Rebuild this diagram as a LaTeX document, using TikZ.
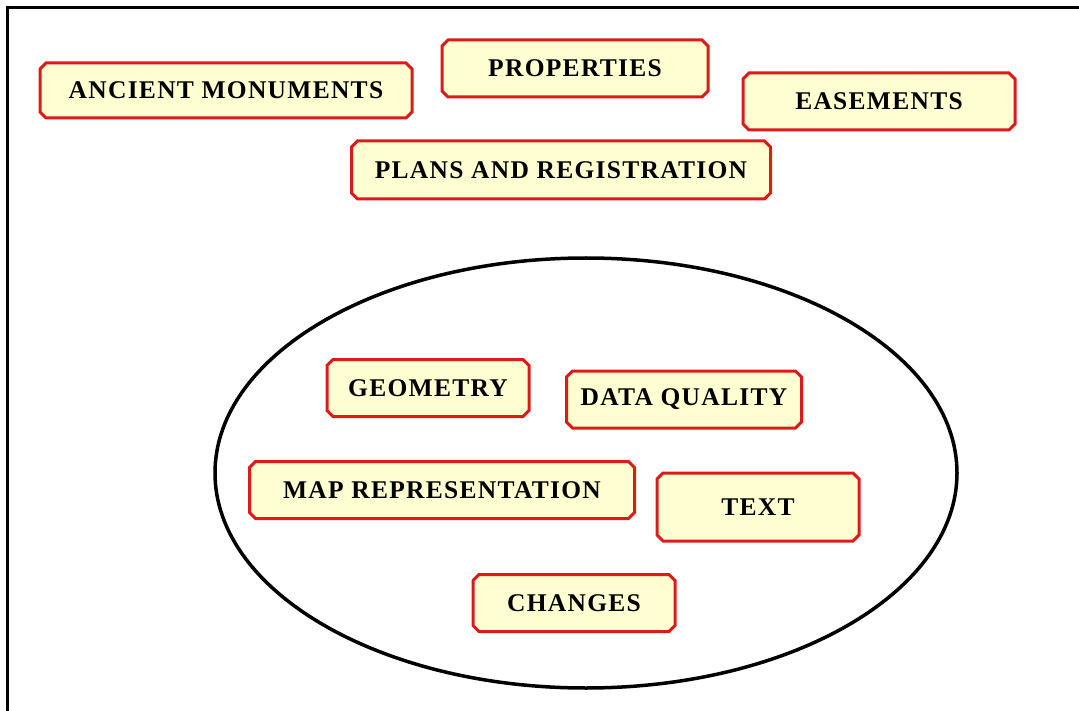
\documentclass[tikz,border=0pt]{standalone}
\usepackage{fontspec}
\setmainfont{Liberation Serif}[LetterSpace=5]
\usetikzlibrary{shapes.misc}
\definecolor{boxred}{HTML}{DD1A1A}
\definecolor{boxfill}{HTML}{FFFFD2}

\begin{document}
\begin{tikzpicture}[
  x=1pt,y=-1pt,
  topic/.style={chamfered rectangle,chamfered rectangle xsep=3pt,chamfered rectangle ysep=3pt,
    draw=boxred,line width=3pt,fill=boxfill,minimum height=57pt,
    font=\fontsize{25.5}{28}\selectfont\bfseries},
  scope line/.style={line width=3.5pt,black}
]
  \useasboundingbox (0,0) rectangle (1079,711);
  % frame
  \draw[line width=3pt] (7,711) -- (7,8) -- (1079,8);

  % outside topics
  \node[topic,minimum width=372pt,minimum height=55pt] (ancient) at (226,90.5) {ANCIENT MONUMENTS};
  \node[topic,minimum width=266pt] (properties) at (575,68.5) {PROPERTIES};
  \node[topic,minimum width=272pt] (easements) at (879,101.5) {EASEMENTS};
  \node[topic,minimum width=419pt,minimum height=58pt] (plans) at (561,170) {PLANS AND REGISTRATION};

  % the scope
  \draw[scope line] (586,473) ellipse (371 and 215);

  % inside topics
  \node[topic,minimum width=202pt] (geometry) at (428,388) {GEOMETRY};
  \node[topic,minimum width=235pt] (quality) at (684,399.5) {DATA QUALITY};
  \node[topic,minimum width=385pt] (maprep) at (442,490) {MAP REPRESENTATION};
  \node[topic,minimum width=202pt,minimum height=68pt] (text) at (758,507) {TEXT};
  \node[topic,minimum width=202pt] (changes) at (574,603) {CHANGES};
\end{tikzpicture}
\end{document}
